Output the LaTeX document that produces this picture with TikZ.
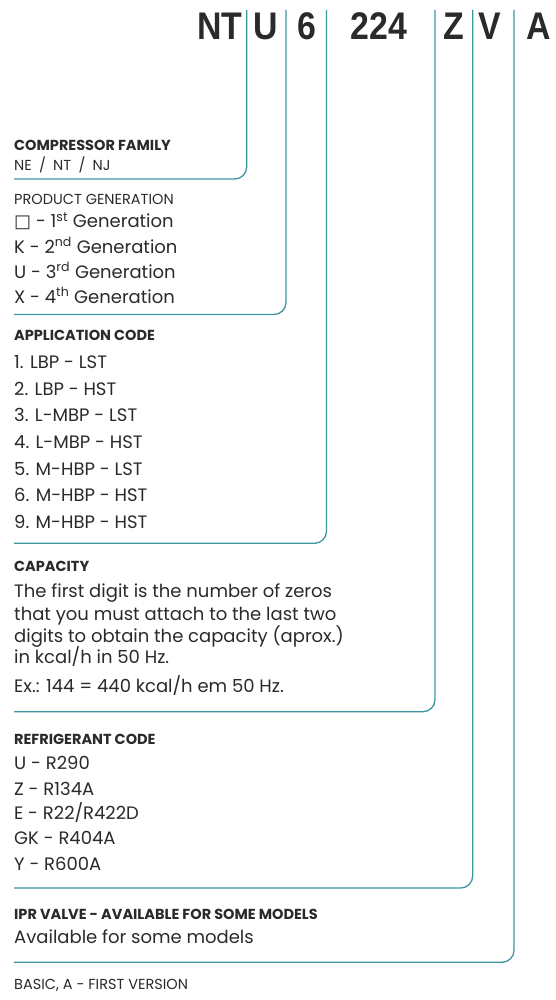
\documentclass[tikz,border=0pt]{standalone}
\usepackage{fontspec}
\setmainfont{Poppins}
\newfontfamily\codefont[FakeStretch=0.88]{Liberation Sans}
\newfontfamily\symfont{DejaVu Sans}
\definecolor{teal}{HTML}{3F95A0}
\definecolor{ink}{HTML}{2A2A2A}
\tikzset{
  code/.style={anchor=base, inner sep=0pt, text=ink, font=\codefont\bfseries\fontsize{38.5}{38.5}\selectfont},
  head/.style={anchor=base west, inner sep=0pt, text=ink, font=\fontsize{14.5}{14.5}\selectfont\bfseries},
  sub/.style={anchor=base west, inner sep=0pt, text=ink, font=\fontsize{14.5}{14.5}\selectfont},
  item/.style={anchor=base west, inner sep=0pt, text=ink, font=\fontsize{18}{18}\selectfont},
  conn/.style={draw=teal, line width=1.3pt, rounded corners=12pt}
}
\begin{document}
\begin{tikzpicture}[x=1pt, y=-1pt]
\useasboundingbox (0,0) rectangle (556,1000);
\node[code] (NT) at (220,39.5) {NT};
\node[code] (U) at (266,39.5) {U};
\node[code] (6) at (307,39.5) {6};
\node[code] (224) at (379,39.5) {224};
\node[code] (Z) at (454,39.5) {Z};
\node[code] (V) at (490,39.5) {V};
\node[code] (A) at (539,39.5) {A};
\coordinate (s1) at (246.7,10);
\coordinate (s2) at (286,10);
\coordinate (s3) at (326.5,10);
\coordinate (s4) at (435,10);
\coordinate (s5) at (472.7,10);
\coordinate (s6) at (514,10);
\coordinate (e1) at (14,179);
\coordinate (e2) at (14,314.5);
\coordinate (e3) at (14,543.3);
\coordinate (e4) at (14,711.7);
\coordinate (e5) at (14,888);
\coordinate (e6) at (14,962.3);
\node[head] (family) at (14,151) {COMPRESSOR FAMILY};
\node[sub] (familyA) at (14,171) {NE\enspace/\enspace NT\enspace/\enspace NJ};
\node[sub] (gen) at (14,205) {PRODUCT GENERATION};
\node[item] (gen1) at (14,228) {{\symfont □} - 1\textsuperscript{st} Generation};
\node[item] (gen2) at (14,253) {K - 2\textsuperscript{nd} Generation};
\node[item] (gen3) at (14,278) {U - 3\textsuperscript{rd} Generation};
\node[item] (gen4) at (14,303) {X - 4\textsuperscript{th} Generation};
\node[head] (app) at (14,340.5) {APPLICATION CODE};
\node[item] (app1) at (14,368.5) {1. LBP - LST};
\node[item] (app2) at (14,395) {2. LBP - HST};
\node[item] (app3) at (14,421.7) {3. L-MBP - LST};
\node[item] (app4) at (14,448.3) {4. L-MBP - HST};
\node[item] (app5) at (14,475) {5. M-HBP - LST};
\node[item] (app6) at (14,501.7) {6. M-HBP - HST};
\node[item] (app9) at (14,528.3) {9. M-HBP - HST};
\node[head] (cap) at (14,571) {CAPACITY};
\node[item] (cap1) at (14,597) {The first digit is the number of zeros};
\node[item] (cap2) at (14,620) {that you must attach to the last two};
\node[item] (cap3) at (14,642) {digits to obtain the capacity (aprox.)};
\node[item] (cap4) at (14,663) {in kcal/h in 50 Hz.};
\node[item] (capEx) at (14,692) {Ex.: 144 = 440 kcal/h em 50 Hz.};
\node[head] (ref) at (14,744.5) {REFRIGERANT CODE};
\node[item] (refU) at (14,769) {U - R290};
\node[item] (refZ) at (14,795) {Z - R134A};
\node[item] (refE) at (14,819) {E - R22/R422D};
\node[item] (refGK) at (14,844.3) {GK - R404A};
\node[item] (refY) at (14,870) {Y - R600A};
\node[head] (ipr) at (14,919.5) {IPR VALVE - AVAILABLE FOR SOME MODELS};
\node[item] (iprA) at (14,943) {Available for some models};
\node[sub] (basic) at (14,989.5) {BASIC, A - FIRST VERSION};
\draw[conn] (s1) |- (e1);
\draw[conn] (s2) |- (e2);
\draw[conn] (s3) |- (e3);
\draw[conn] (s4) |- (e4);
\draw[conn] (s5) |- (e5);
\draw[conn] (s6) |- (e6);
\end{tikzpicture}
\end{document}
